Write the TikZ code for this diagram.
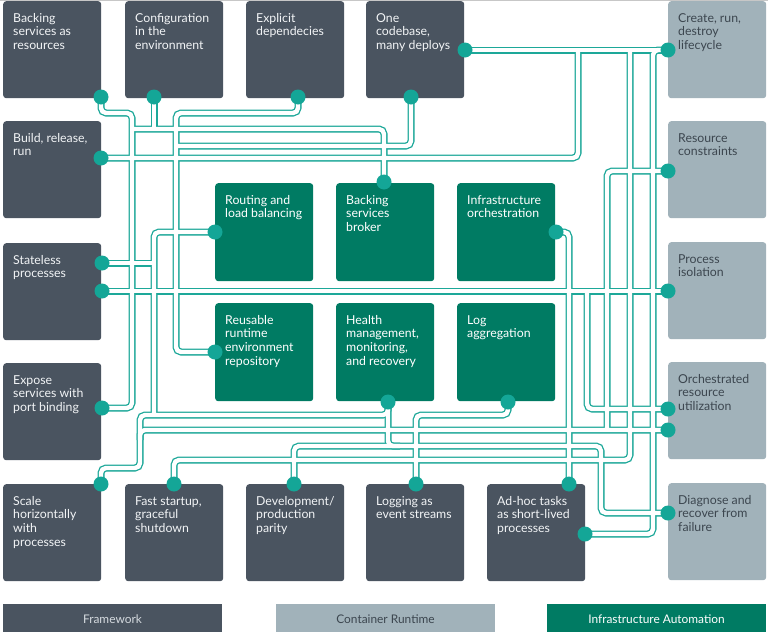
\documentclass[tikz,border=0pt]{standalone}
\usepackage{fontspec}
\setmainfont{Lato}
\definecolor{fwc}{HTML}{4A5460}
\definecolor{crc}{HTML}{A1B2BA}
\definecolor{iac}{HTML}{007B63}
\definecolor{wirec}{HTML}{1DA899}
\definecolor{dotc}{HTML}{14A697}
\definecolor{crtext}{HTML}{3C464F}
\definecolor{fwtext}{HTML}{F2F4F6}
\definecolor{legfw}{HTML}{D5DADF}
\pgfdeclarelayer{bg}
\pgfsetlayers{bg,main}
\newcommand\lns[1]{\begin{tabular}[t]{@{}l@{}}#1\end{tabular}}
\newcommand\mkbox[6]{%
  \node[#1] (#2) at (#3,#4) {};
  \node[txt,text=#6] (#2-t) at (#3+10,#4+21) {\lns{#5}};}
\newcommand\wirepaths[1]{%
  \draw[#1] (d-bs.center) -- (101,113) -- (132,113) -- (132,408) -- (d-es.center);
  \draw[#1] (132,129) -- (384,129) -- (d-bb.center);
  \draw[#1] (d-cfg.center) -- (154,129);
  \draw[#1] (d-ed.center) -- (298,113) -- (176,113) -- (176,352) -- (d-rr.center);
  \draw[#1] (d-oc2.center) -- (411,146) -- (176,146);
  \draw[#1] (d-brr.center) -- (578,158) -- (578,50);
  \draw[#1] (d-oc1.center) -- (d-cr.center);
  \draw[#1] (d-rl.center) -- (154,232) -- (154,415);
  \draw[#1] (d-sp1.center) -- (154,263);
  \draw[#1] (d-sp2.center) -- (d-pi.center);
  \draw[#1] (587,291) -- (587,409) -- (d-or1.center);
  \draw[#1] (d-io.center) -- (569,232) -- (d-ah1.center);
  \draw[#1] (d-rc.center) -- (607,171) -- (607,430);
  \draw[#1] (d-sh.center) -- (101,468) -- (140,468) -- (140,430) -- (d-or2.center);
  \draw[#1] (140,440) -- (140,415) -- (388,415) -- (d-hm.center);
  \draw[#1] (d-hm.center) -- (388,446) -- (601,446) -- (601,513) -- (d-dr.center);
  \draw[#1] (d-dp.center) -- (294,446) -- (400,446);
  \draw[#1] (d-la.center) -- (508,415) -- (416,415) -- (d-lg.center);
  \draw[#1] (d-fs.center) -- (174,460) -- (630,460) -- (630,50);
  \draw[#1] (d-cr.center) -- (653,50) -- (653,534) -- (d-ah2.center);
}
\begin{document}
\begin{tikzpicture}[x=1pt,y=-1pt,
  box/.style={rounded corners=3pt, minimum width=98pt, minimum height=97pt,
    anchor=north west, inner sep=0pt, draw=none},
  fwbox/.style={box, fill=fwc},
  crbox/.style={box, fill=crc},
  iabox/.style={box, fill=iac, minimum height=98pt},
  txt/.style={anchor=base west, inner sep=0pt, font=\fontsize{12.3}{13.8}\selectfont},
  dot/.style={circle, fill=dotc, minimum size=15pt, inner sep=0pt},
  wout/.style={draw=wirec, line width=7pt, rounded corners=5pt},
  win/.style={draw=white, line width=4.4pt, rounded corners=5pt},
  legbar/.style={anchor=north west, minimum width=219pt, minimum height=28pt, inner sep=0pt},
  legtxt/.style={anchor=base, inner sep=0pt, font=\fontsize{11.9}{13}\selectfont}
]
\useasboundingbox (0,0) rectangle (768,632);
\begin{pgfonlayer}{bg}
  \fill[white] (0,0) rectangle (768,632);
  \draw[black!22, line width=1pt] (0,0.5) -- (768,0.5);
\end{pgfonlayer}

% Framework boxes
\mkbox{fwbox}{bs}{3}{1}{Backing\\services as\\resources}{fwtext}
\mkbox{fwbox}{cfg}{125}{1}{Configuration\\in the\\environment}{fwtext}
\mkbox{fwbox}{ed}{246}{1}{Explicit\\dependecies}{fwtext}
\mkbox{fwbox}{oc}{366}{1}{One\\codebase,\\many deploys}{fwtext}
\mkbox{fwbox}{brr}{3}{121}{Build, release,\\run}{fwtext}
\mkbox{fwbox}{sp}{3}{243}{Stateless\\processes}{fwtext}
\mkbox{fwbox}{es}{3}{363}{Expose\\services with\\port binding}{fwtext}
\mkbox{fwbox}{sh}{3}{484}{Scale\\horizontally\\with\\processes}{fwtext}
\mkbox{fwbox}{fs}{125}{484}{Fast startup,\\graceful\\shutdown}{fwtext}
\mkbox{fwbox}{dp}{246}{484}{Development/\\production\\parity}{fwtext}
\mkbox{fwbox}{lg}{366}{484}{Logging as\\event streams}{fwtext}
\mkbox{fwbox}{ah}{487}{484}{Ad-hoc tasks\\as short-lived\\processes}{fwtext}

% Infrastructure automation boxes
\mkbox{iabox}{rl}{215}{183}{Routing and\\load balancing}{white}
\mkbox{iabox}{bb}{336}{183}{Backing\\services\\broker}{white}
\mkbox{iabox}{io}{457}{183}{Infrastructure\\orchestration}{white}
\mkbox{iabox}{rr}{215}{303}{Reusable\\runtime\\environment\\repository}{white}
\mkbox{iabox}{hm}{336}{303}{Health\\management,\\monitoring,\\and recovery}{white}
\mkbox{iabox}{la}{457}{303}{Log\\aggregation}{white}

% Container runtime boxes
\mkbox{crbox}{crl}{668}{1}{Create, run,\\destroy\\lifecycle}{crtext}
\mkbox{crbox}{rc}{668}{121}{Resource\\constraints}{crtext}
\mkbox{crbox}{pi}{668}{242}{Process\\isolation}{crtext}
\mkbox{crbox}{orc}{668}{362}{Orchestrated\\resource\\utilization}{crtext}
\mkbox{crbox}{dr}{668}{483}{Diagnose and\\recover from\\failure}{crtext}

% Legend
\node[legbar, fill=fwc] (leg-fw) at (3,604) {};
\node[legbar, fill=crc] (leg-cr) at (276,604) {};
\node[legbar, fill=iac] (leg-ia) at (547,604) {};
\node[legtxt, text=legfw] (leg-fw-t) at (112.5,623) {Framework};
\node[legtxt, text=crtext] (leg-cr-t) at (385.5,623) {Container Runtime};
\node[legtxt, text=white] (leg-ia-t) at (656.5,623) {Infrastructure Automation};

% Connection dots
\node[dot] (d-bs) at (101,97) {};
\node[dot] (d-cfg) at (154,97) {};
\node[dot] (d-ed) at (298,97) {};
\node[dot] (d-oc1) at (465,50) {};
\node[dot] (d-oc2) at (411,97) {};
\node[dot] (d-brr) at (101,158) {};
\node[dot] (d-sp1) at (102,263) {};
\node[dot] (d-sp2) at (102,291) {};
\node[dot] (d-es) at (102,408) {};
\node[dot] (d-sh) at (101,484) {};
\node[dot] (d-fs) at (174,484) {};
\node[dot] (d-dp) at (294,484) {};
\node[dot] (d-lg) at (416,484) {};
\node[dot] (d-ah1) at (569,484) {};
\node[dot] (d-ah2) at (585,534) {};
\node[dot] (d-rl) at (215,232) {};
\node[dot] (d-bb) at (384,182) {};
\node[dot] (d-io) at (556,232) {};
\node[dot] (d-rr) at (215,352) {};
\node[dot] (d-hm) at (388,402) {};
\node[dot] (d-la) at (508,402) {};
\node[dot] (d-cr) at (668,50) {};
\node[dot] (d-rc) at (668,171) {};
\node[dot] (d-pi) at (668,291) {};
\node[dot] (d-or1) at (668,409) {};
\node[dot] (d-or2) at (668,430) {};
\node[dot] (d-dr) at (668,513) {};

% Connectors (outline pass, then inner pass), behind boxes and dots
\begin{pgfonlayer}{bg}
  \wirepaths{wout}
  \wirepaths{win}
\end{pgfonlayer}
\end{tikzpicture}
\end{document}
